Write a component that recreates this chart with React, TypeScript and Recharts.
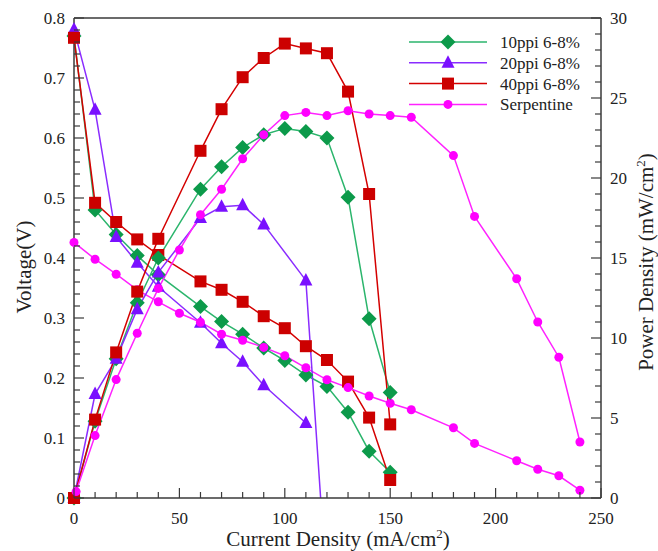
import React from "react";
import { LineChart, Line, XAxis, YAxis, ReferenceLine, Label } from "recharts";

// current density (mA/cm2) per series
const current10 = [0, 10, 20, 30, 40, 60, 70, 80, 90, 100, 110, 120, 130, 140, 150];
const current20 = [0, 10, 20, 30, 40, 60, 70, 80, 90, 110];
const current20Power = [0, 10, 20, 30, 40, 60, 70, 80, 90, 110, 117];
const current40 = [0, 10, 20, 30, 40, 60, 70, 80, 90, 100, 110, 120, 130, 140, 150];
const currentSerp = [0, 10, 20, 30, 40, 50, 60, 70, 80, 90, 100, 110, 120, 130, 140, 150, 160, 180, 190, 210, 220, 230, 240];
const currentSerpPower = [1, 10, 20, 30, 40, 50, 60, 70, 80, 90, 100, 110, 120, 130, 140, 150, 160, 180, 190, 210, 220, 230, 240];

// voltage (V)
const volt10 = [0.77, 0.48, 0.439, 0.404, 0.372, 0.319, 0.294, 0.273, 0.25, 0.229, 0.205, 0.186, 0.143, 0.078, 0.043];
const volt20 = [0.781, 0.647, 0.435, 0.392, 0.352, 0.292, 0.258, 0.227, 0.188, 0.125];
const volt40 = [0.767, 0.492, 0.46, 0.431, 0.405, 0.361, 0.347, 0.327, 0.303, 0.283, 0.253, 0.23, 0.194, 0.134, 0.03];
const voltSerp = [0.426, 0.398, 0.373, 0.347, 0.327, 0.308, 0.293, 0.273, 0.263, 0.251, 0.237, 0.217, 0.197, 0.184, 0.17, 0.158, 0.147, 0.117, 0.091, 0.062, 0.048, 0.037, 0.013];

// power density (mW/cm2)
const power10 = [0, 4.8, 8.7, 12.2, 15.0, 19.3, 20.7, 21.9, 22.7, 23.1, 22.9, 22.5, 18.8, 11.2, 6.6];
const power20 = [0, 6.5, 8.7, 11.8, 14.1, 17.5, 18.2, 18.3, 17.1, 13.6, 0];
const power40 = [0, 4.9, 9.1, 12.9, 16.2, 21.7, 24.3, 26.3, 27.5, 28.4, 28.1, 27.8, 25.4, 19.0, 4.6];
const powerSerp = [0.4, 3.9, 7.4, 10.3, 13.1, 15.5, 17.7, 19.3, 21.2, 22.7, 23.9, 24.1, 23.9, 24.2, 24.0, 23.9, 23.8, 21.4, 17.6, 13.7, 11.0, 8.8, 3.5];

const xMajorTicks = [0, 50, 100, 150, 200, 250];
const voltMajorTicks = [0, 0.1, 0.2, 0.3, 0.4, 0.5, 0.6, 0.7, 0.8];
const powerMajorTicks = [0, 5, 10, 15, 20, 25, 30];

const minorTicks = (max: number, step: number) =>
  Array.from({ length: Math.round(max / step) + 1 }, (_, i) => Number((i * step).toFixed(3)));

const xTicks = minorTicks(250, 10);
const voltTicks = minorTicks(0.8, 0.02);
const powerTicks = minorTicks(30, 1);

const zip = (xs: number[], ys: number[]) => xs.map((x, i) => ({ x, y: ys[i] }));

const series = [
  { name: "10ppi 6-8%", line: "#2bb56c", fill: "#0c9a4a", shape: "diamond", volt: zip(current10, volt10), power: zip(current10, power10), marked: 99 },
  { name: "20ppi 6-8%", line: "#8a2cff", fill: "#7a10ff", shape: "triangle", volt: zip(current20, volt20), power: zip(current20Power, power20), marked: 10 },
  { name: "40ppi 6-8%", line: "#d40000", fill: "#cc0000", shape: "square", volt: zip(current40, volt40), power: zip(current40, power40), marked: 99 },
  { name: "Serpentine", line: "#ff22ff", fill: "#ff00ff", shape: "circle", volt: zip(currentSerp, voltSerp), power: zip(currentSerpPower, powerSerp), marked: 99 },
];

const FONT = "'Liberation Serif', 'Times New Roman', serif";
const AXIS = "#3a3a3a";

function Marker({ shape, cx, cy, fill }: { shape: string; cx: number; cy: number; fill: string }) {
  if (shape === "diamond")
    return <polygon points={`${cx},${cy - 7.5} ${cx + 7.5},${cy} ${cx},${cy + 7.5} ${cx - 7.5},${cy}`} fill={fill} />;
  if (shape === "triangle")
    return <polygon points={`${cx},${cy - 7.5} ${cx + 6.5},${cy + 5} ${cx - 6.5},${cy + 5}`} fill={fill} />;
  if (shape === "square") return <rect x={cx - 6} y={cy - 6} width={12} height={12} fill={fill} />;
  return <circle cx={cx} cy={cy} r={4.5} fill={fill} />;
}

const dotFor = (s: (typeof series)[number]) => (p: any) =>
  p.index >= s.marked || p.cx == null ? (
    <g key={p.key ?? p.index} />
  ) : (
    <Marker key={p.key ?? p.index} shape={s.shape} cx={p.cx} cy={p.cy} fill={s.fill} />
  );

const XTick = (props: any) => {
  const { x, y, payload } = props;
  const v = payload.value;
  const major = xMajorTicks.includes(v);
  return (
    <g>
      <line x1={x} x2={x} y1={y} y2={y - (major ? 10 : 6)} stroke={AXIS} strokeWidth={1.2} />
      {major && (
        <text x={x} y={y + 26} textAnchor="middle" fontSize={17} fontFamily={FONT} fill="#222">
          {v}
        </text>
      )}
    </g>
  );
};

const LeftTick = (props: any) => {
  const { x, y, payload } = props;
  const v = payload.value;
  const major = voltMajorTicks.some((t) => Math.abs(t - v) < 1e-6);
  return (
    <g>
      <line x1={x} x2={x + (major ? 10 : 6)} y1={y} y2={y} stroke={AXIS} strokeWidth={1.2} />
      {major && (
        <text x={x - 9} y={y + 6} textAnchor="end" fontSize={17} fontFamily={FONT} fill="#222">
          {Number(v.toFixed(1))}
        </text>
      )}
    </g>
  );
};

const RightTick = (props: any) => {
  const { x, y, payload } = props;
  const v = payload.value;
  const major = powerMajorTicks.includes(v);
  return (
    <g>
      <line x1={x} x2={x - (major ? 10 : 6)} y1={y} y2={y} stroke={AXIS} strokeWidth={1.2} />
      {major && (
        <text x={x + 9} y={y + 6} textAnchor="start" fontSize={17} fontFamily={FONT} fill="#222">
          {v}
        </text>
      )}
    </g>
  );
};

function LegendBox() {
  return (
    <svg width={200} height={90} style={{ position: "absolute", left: 405, top: 30 }}>
      {series.map((s, i) => {
        const y = 12 + i * 20.8;
        return (
          <g key={s.name}>
            <line x1={4} x2={82} y1={y} y2={y} stroke={s.line} strokeWidth={1.5} />
            <Marker shape={s.shape} cx={43} cy={y} fill={s.fill} />
            <text x={95} y={y + 6} fontSize={17} fontFamily={FONT} fill="#222">
              {s.name}
            </text>
          </g>
        );
      })}
    </svg>
  );
}

export default function App() {
  return (
    <div style={{ position: "absolute", left: 0, top: 0, width: 658, height: 551, background: "#fff" }}>
      <LineChart width={658} height={551} margin={{ top: 18, right: 0, left: 0, bottom: 0 }}>
        <XAxis
          dataKey="x"
          type="number"
          domain={[0, 250]}
          ticks={xTicks}
          interval={0}
          height={53}
          tickSize={0}
          tickMargin={0}
          tickLine={false}
          tick={<XTick />}
          axisLine={{ stroke: AXIS, strokeWidth: 1.5 }}
          allowDuplicatedCategory={false}
        >
          <Label
            content={() => (
              <text x={338} y={546} textAnchor="middle" fontSize={21} fontFamily={FONT} fill="#222">
                Current Density (mA/cm
                <tspan dy={-8} fontSize={13}>2</tspan>
                <tspan dy={8}>)</tspan>
              </text>
            )}
          />
        </XAxis>
        <YAxis
          yAxisId="left"
          type="number"
          domain={[0, 0.8]}
          ticks={voltTicks}
          interval={0}
          width={74}
          tickSize={0}
          tickMargin={0}
          tickLine={false}
          tick={<LeftTick />}
          axisLine={{ stroke: AXIS, strokeWidth: 1.5 }}
        >
          <Label
            content={() => (
              <text transform="translate(31,267) rotate(-90)" textAnchor="middle" fontSize={21} fontFamily={FONT} fill="#222">
                Voltage(V)
              </text>
            )}
          />
        </YAxis>
        <YAxis
          yAxisId="right"
          orientation="right"
          type="number"
          domain={[0, 30]}
          ticks={powerTicks}
          interval={0}
          width={57}
          tickSize={0}
          tickMargin={0}
          tickLine={false}
          tick={<RightTick />}
          axisLine={{ stroke: AXIS, strokeWidth: 1.5 }}
        >
          <Label
            content={() => (
              <text transform="translate(653,262) rotate(-90)" textAnchor="middle" fontSize={21} fontFamily={FONT} fill="#222">
                Power Density (mW/cm
                <tspan dy={-8} fontSize={13}>2</tspan>
                <tspan dy={8}>)</tspan>
              </text>
            )}
          />
        </YAxis>
        <ReferenceLine yAxisId="left" y={0.8} stroke={AXIS} strokeWidth={1.5} />
        {series.map((s) => (
          <Line
            key={s.name + "-v"}
            yAxisId="left"
            data={s.volt}
            dataKey="y"
            type="linear"
            stroke={s.line}
            strokeWidth={1.5}
            dot={dotFor({ ...s, marked: 99 })}
            activeDot={false}
            isAnimationActive={false}
            legendType="none"
          />
        ))}
        {series.map((s) => (
          <Line
            key={s.name + "-p"}
            yAxisId="right"
            data={s.power}
            dataKey="y"
            type="linear"
            stroke={s.line}
            strokeWidth={1.5}
            dot={dotFor(s)}
            activeDot={false}
            isAnimationActive={false}
            legendType="none"
          />
        ))}
      </LineChart>
      <LegendBox />
    </div>
  );
}
